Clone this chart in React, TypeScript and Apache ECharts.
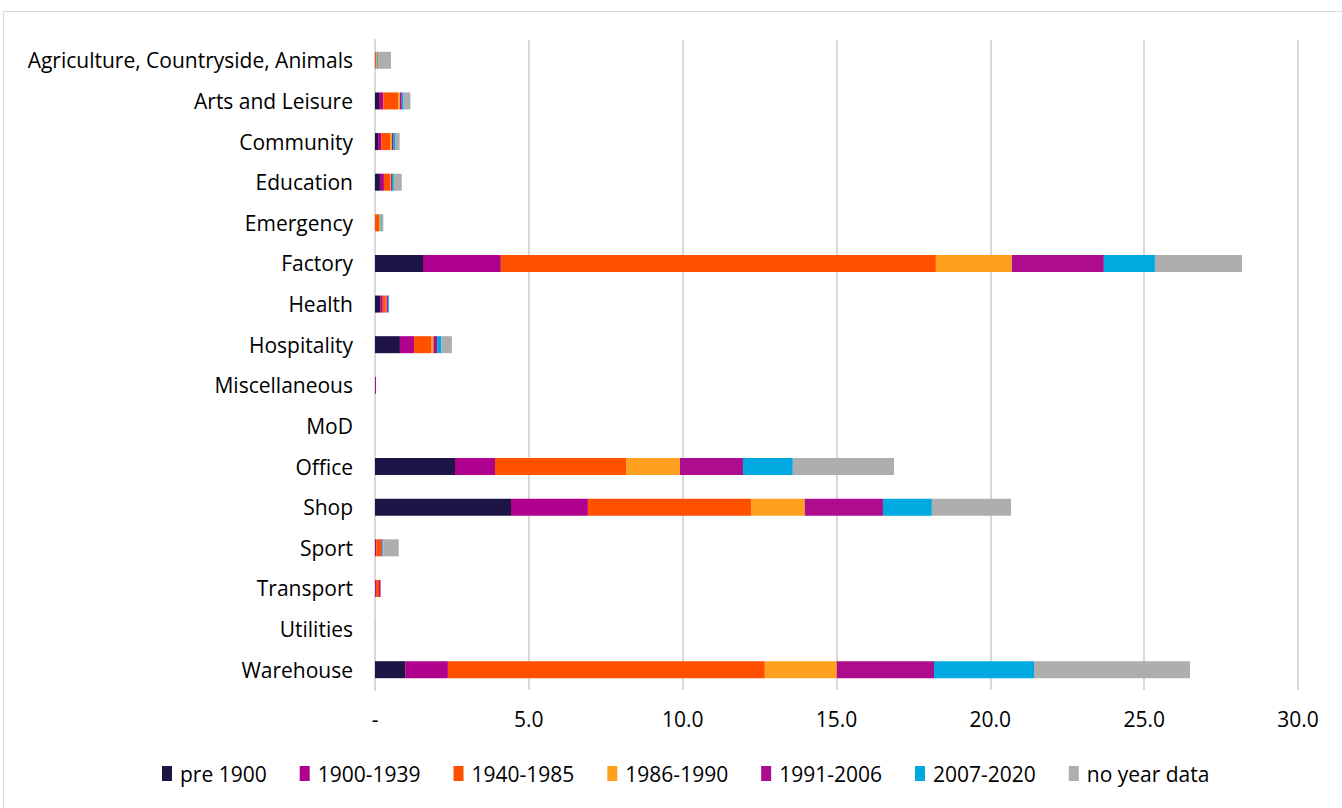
import React, { useEffect, useRef } from "react";
import * as echarts from "echarts";

const categories = [
  "Agriculture, Countryside, Animals",
  "Arts and Leisure",
  "Community",
  "Education",
  "Emergency",
  "Factory",
  "Health",
  "Hospitality",
  "Miscellaneous",
  "MoD",
  "Office",
  "Shop",
  "Sport",
  "Transport",
  "Utilities",
  "Warehouse",
];

const seriesNames = ["pre 1900", "1900-1939", "1940-1985", "1986-1990", "1991-2006", "2007-2020", "no year data"];
const seriesColors = ["#1F1446", "#B0008E", "#FF5000", "#FF9F1E", "#AE0C8E", "#00A9E0", "#AEAEAE"];

const pre1900 = [0, 0.13, 0.1, 0.16, 0, 1.56, 0.17, 0.81, 0, 0, 2.6, 4.42, 0, 0, 0, 0.98];
const y1900_1939 = [0, 0.14, 0.1, 0.13, 0, 2.53, 0.08, 0.46, 0.03, 0, 1.3, 2.5, 0.04, 0.03, 0, 1.39];
const y1940_1985 = [0.05, 0.49, 0.29, 0.2, 0.15, 14.14, 0.1, 0.55, 0, 0, 4.26, 5.3, 0.17, 0.1, 0, 10.3];
const y1986_1990 = [0.02, 0.05, 0.06, 0.03, 0.03, 2.47, 0.02, 0.08, 0, 0, 1.75, 1.75, 0, 0, 0, 2.34];
const y1991_2006 = [0, 0.06, 0.04, 0.03, 0, 2.99, 0.05, 0.12, 0, 0, 2.05, 2.54, 0.03, 0.05, 0, 3.16];
const y2007_2020 = [0.03, 0.06, 0.06, 0.06, 0.04, 1.66, 0.03, 0.13, 0, 0, 1.62, 1.59, 0.03, 0, 0, 3.25];
const noYear = [0.42, 0.22, 0.15, 0.26, 0.05, 2.83, 0, 0.35, 0, 0, 3.29, 2.57, 0.5, 0, 0.01, 5.07];

const seriesData = [pre1900, y1900_1939, y1940_1985, y1986_1990, y1991_2006, y2007_2020, noYear];

const FONT = "Open Sans";

export default function App() {
  const ref = useRef<HTMLDivElement>(null);
  useEffect(() => {
    if (!ref.current) return;
    const chart = echarts.init(ref.current, null, { renderer: "svg" });
    chart.setOption({
      animation: false,
      backgroundColor: "#ffffff",
      textStyle: { fontFamily: FONT },
      graphic: [
        {
          type: "rect",
          shape: { x: 3.5, y: 11.5, width: 1345, height: 810 },
          style: { fill: "none", stroke: "#D9D9D9", lineWidth: 1 },
          silent: true,
        },
      ],
      legend: {
        data: seriesNames,
        bottom: 19,
        left: 157,
        padding: 5,
        itemWidth: 10,
        itemHeight: 15,
        itemGap: 33,
        icon: "rect",
        textStyle: { fontFamily: FONT, fontSize: 21, color: "#000000", padding: [0, 0, 0, 3] },
      },
      grid: { left: 375, right: 44, top: 40, bottom: 118, containLabel: false },
      xAxis: {
        type: "value",
        min: 0,
        max: 30,
        interval: 5,
        axisLine: { show: false },
        axisTick: { show: false },
        splitLine: { show: true, lineStyle: { color: "#D9D9D9", width: 2 } },
        axisLabel: {
          fontFamily: FONT,
          fontSize: 21,
          color: "#000000",
          margin: 18,
          formatter: (v: number) => (v === 0 ? "-" : v.toFixed(1)),
        },
      },
      yAxis: {
        type: "category",
        data: categories,
        inverse: true,
        axisLine: { show: true, lineStyle: { color: "#D9D9D9", width: 2 } },
        axisTick: { show: false },
        axisLabel: { fontFamily: FONT, fontSize: 21, color: "#000000", margin: 22 },
      },
      series: seriesNames.map((name, i) => ({
        name,
        type: "bar",
        stack: "total",
        barWidth: 17,
        data: seriesData[i],
        itemStyle: { color: seriesColors[i] },
      })),
    });
    return () => chart.dispose();
  }, []);
  return (
    <div
      ref={ref}
      style={{ position: "absolute", left: 0, top: 0, width: 1342, height: 808 }}
    />
  );
}
